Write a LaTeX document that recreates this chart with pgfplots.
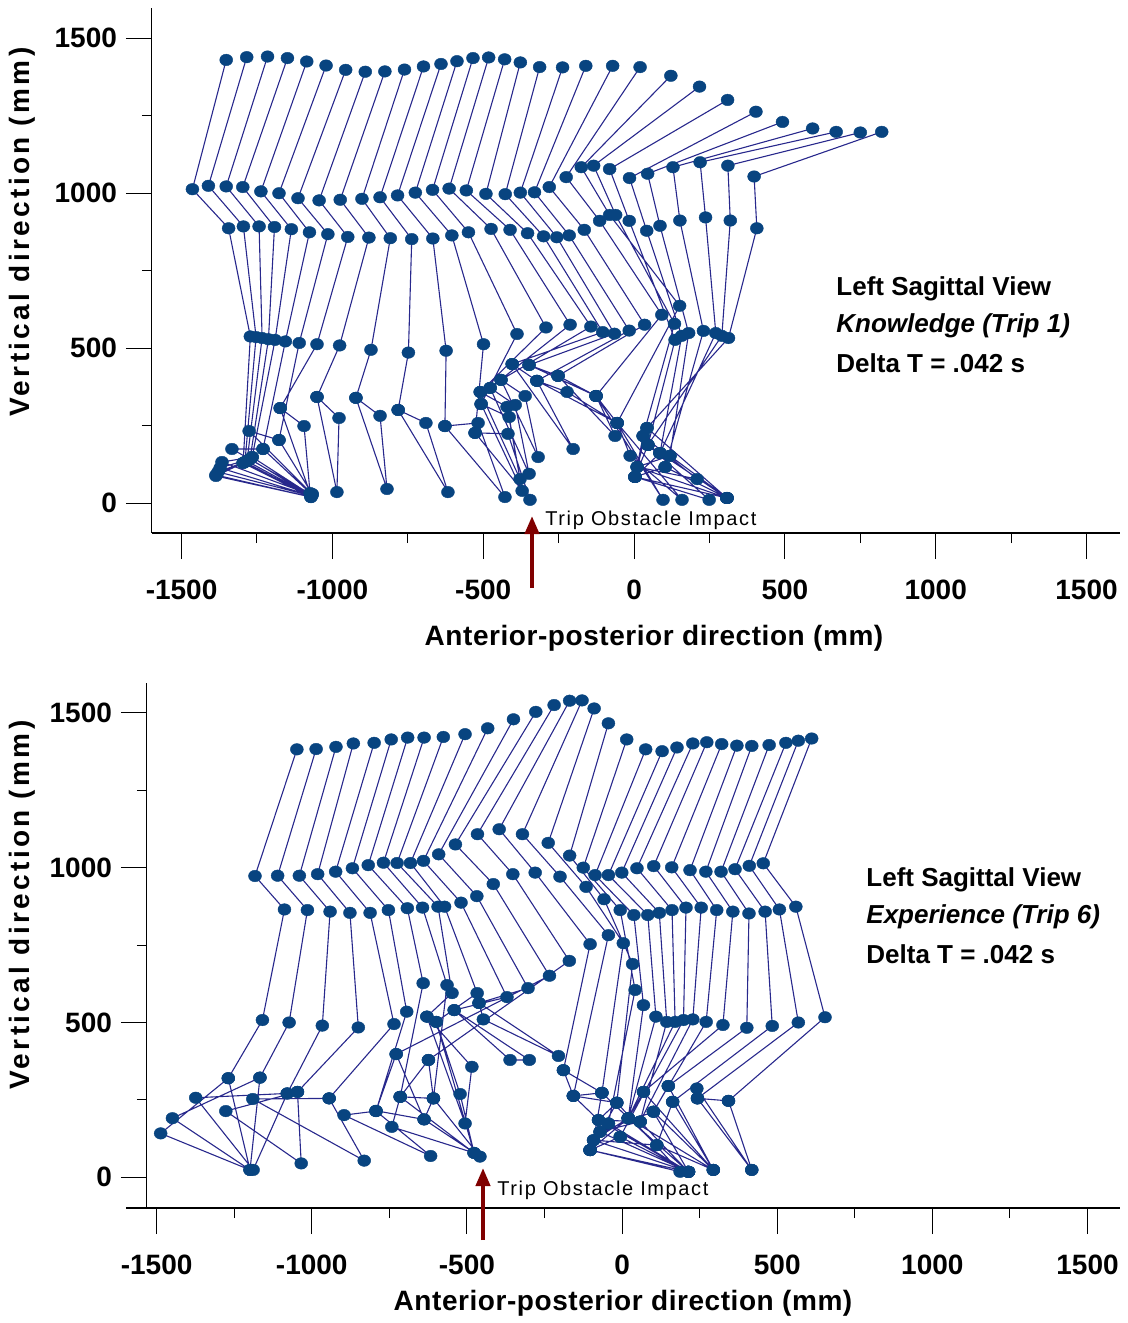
\documentclass[border=0pt]{standalone}
\usepackage{fontspec}
\setmainfont{Liberation Sans}
\newfontfamily\ylabfont[LetterSpace=12]{Liberation Sans}
\newfontfamily\xlabfont[LetterSpace=2]{Liberation Sans}
\newfontfamily\tripfont[LetterSpace=8]{Liberation Sans}
\usepackage{pgfplots}
\usepackage{pgfplotstable}
\pgfplotsset{compat=1.18}
\usetikzlibrary{arrows.meta}
\definecolor{lc}{RGB}{40,40,140}
\definecolor{mc}{RGB}{8,68,128}
\definecolor{arr}{RGB}{128,0,0}

\pgfplotstableread{
x y
-1352 1430
-1464 1013
-1344 887
-1272 538
-1296 130
-1386 88
-1071 20
-1296 130
nan nan
-1284 1439
-1411 1024
-1295 893
-1253 536
-1290 133
-1386 91
-1071 20
-1290 133
nan nan
-1215 1441
-1352 1022
-1243 893
-1233 533
-1283 136
-1379 101
-1071 24
-1283 136
nan nan
-1149 1436
-1297 1020
-1192 891
-1212 529
-1273 143
-1372 114
-1071 24
-1273 143
nan nan
-1085 1425
-1237 1006
-1136 884
-1190 527
-1266 149
-1366 133
-1071 27
-1266 149
nan nan
-1021 1412
-1177 1000
-1076 874
-1156 522
-1230 175
-1333 175
-1067 27
-1230 175
nan nan
-956 1398
-1114 984
-1015 868
-1110 517
-1177 204
-1276 233
-1067 30
-1177 204
nan nan
-891 1392
-1044 977
-949 859
-1051 513
-1173 307
-1094 249
-1074 33
-1173 307
nan nan
-826 1393
-974 979
-879 857
-976 509
-1051 343
-978 275
-985 36
-1051 343
nan nan
-761 1399
-902 982
-808 855
-872 495
-922 340
-842 282
-819 46
-922 340
nan nan
-698 1409
-842 987
-737 852
-748 486
-782 301
-690 259
-617 36
-782 301
nan nan
-640 1417
-784 993
-667 854
-623 492
-627 249
-517 259
-428 20
-627 249
nan nan
-587 1426
-725 1002
-604 864
-499 513
-527 227
-418 224
-345 11
-527 227
nan nan
-534 1436
-668 1011
-549 874
-388 546
-507 320
-414 278
-371 40
-507 320
nan nan
-482 1438
-613 1015
-474 885
-292 567
-510 359
-421 311
-378 78
-510 359
nan nan
-429 1432
-556 1009
-411 882
-212 576
-477 372
-394 317
-348 95
-477 372
nan nan
-377 1422
-491 998
-353 871
-143 570
-441 398
-361 346
-318 149
-441 398
nan nan
-313 1407
-427 997
-300 861
-104 552
-404 449
-322 395
-202 175
-404 449
nan nan
-237 1406
-377 1002
-256 858
-65 547
-348 446
-252 411
-126 346
-348 446
nan nan
-160 1411
-330 1003
-215 864
-16 557
-322 395
-222 359
-56 259
-322 395
nan nan
-71 1411
-281 1020
-165 882
35 576
-252 411
-126 346
-63 217
-252 411
nan nan
20 1407
-225 1052
-114 911
92 608
-126 346
-56 259
96 11
-126 346
nan nan
122 1379
-175 1084
-81 930
151 637
-56 259
-13 153
159 11
-56 259
nan nan
217 1344
-134 1089
-61 930
134 579
30 217
10 117
209 78
30 217
nan nan
310 1301
-81 1078
-16 911
136 527
46 188
3 85
249 11
46 188
nan nan
404 1263
-15 1049
42 879
158 540
86 162
3 85
308 17
86 162
nan nan
492 1230
45 1063
86 895
181 549
119 153
10 117
308 17
119 153
nan nan
592 1209
129 1084
152 912
230 556
103 117
3 85
308 17
103 117
nan nan
670 1198
219 1100
237 922
271 549
86 162
3 85
308 17
86 162
nan nan
750 1196
311 1089
319 912
291 540
46 188
3 85
308 17
46 188
nan nan
821 1198
398 1054
407 887
313 533
43 243
3 85
308 17
43 243
}\toptable

\pgfplotstableread{
x y
-1048 1382
-1183 973
-1088 865
-1159 508
-1269 320
-1487 142
-1199 24
-1269 320
nan nan
-986 1383
-1110 974
-1014 863
-1073 500
-1167 322
-1449 191
-1199 24
-1167 322
nan nan
-922 1390
-1040 974
-941 858
-966 490
-1079 271
-1374 257
-1189 24
-1079 271
nan nan
-866 1401
-981 979
-877 854
-850 484
-1046 276
-1277 214
-1034 45
-1046 276
nan nan
-799 1403
-923 987
-812 854
-735 495
-944 255
-1190 253
-831 54
-944 255
nan nan
-744 1414
-869 998
-753 863
-694 535
-793 214
-896 201
-617 69
-793 214
nan nan
-691 1420
-818 1008
-692 869
-641 627
-715 260
-742 163
-477 79
-715 260
nan nan
-638 1420
-769 1016
-643 871
-564 621
-608 255
-638 187
-458 67
-608 255
nan nan
-576 1422
-725 1015
-593 874
-548 595
-629 519
-484 357
-506 174
-629 519
nan nan
-506 1431
-682 1015
-572 874
-467 595
-599 502
-522 269
-477 79
-599 502
nan nan
-433 1450
-640 1022
-519 887
-371 582
-541 540
-361 379
-299 379
-541 540
nan nan
-350 1479
-591 1043
-468 908
-303 611
-461 563
-447 510
-205 392
-461 563
nan nan
-278 1503
-537 1075
-415 947
-234 651
-728 398
-793 215
-638 187
-728 398
nan nan
-219 1525
-466 1108
-352 979
-170 699
-624 379
-715 260
-608 255
-624 379
nan nan
-169 1539
-396 1124
-280 984
-103 753
-189 346
-157 263
-65 273
-189 346
nan nan
-129 1540
-321 1108
-200 971
-44 782
-157 263
-76 185
-17 241
-157 263
nan nan
-90 1514
-238 1080
-116 938
4 756
-65 273
-92 120
112 104
-65 273
nan nan
-44 1466
-169 1039
-58 898
34 689
-17 241
-103 88
187 18
-17 241
nan nan
15 1414
-125 1000
-6 863
42 605
-44 174
-103 88
214 18
-44 174
nan nan
76 1382
-87 976
38 847
69 556
20 191
-92 120
214 18
20 191
nan nan
129 1376
-44 976
83 847
109 519
20 191
-103 88
214 18
20 191
nan nan
177 1388
-1 984
120 854
144 502
58 180
-71 147
214 18
58 180
nan nan
228 1401
48 998
161 863
171 502
20 191
-103 88
214 18
20 191
nan nan
273 1405
102 1005
206 871
198 508
-6 131
-103 88
214 18
-6 131
nan nan
321 1399
160 1001
255 871
228 510
58 180
-76 185
214 18
58 180
nan nan
370 1394
219 992
305 863
271 502
101 212
-71 147
214 18
101 212
nan nan
418 1393
270 987
357 858
325 492
69 276
20 191
294 24
69 276
nan nan
474 1396
319 987
409 852
402 483
149 295
101 212
294 24
149 295
nan nan
528 1403
364 995
461 858
484 489
163 244
112 104
294 24
163 244
nan nan
568 1410
410 1006
507 865
568 500
243 255
241 287
418 24
243 255
nan nan
611 1417
455 1014
560 874
654 517
343 247
243 255
418 24
343 247
}\bottable

\pgfplotsset{
  panel/.style={
    axis x line*=bottom, axis y line*=left,
    clip=false,
    tick align=outside,
    major tick length=13pt, minor tick length=5pt,
    xtick={-1500,-1000,-500,0,500,1000,1500},
    xticklabels={-1500,-1000,-500,0,500,1000,1500},
    minor xtick={-1250,-750,-250,250,750,1250},
    ytick={0,500,1000,1500},
    yticklabels={0,500,1000,1500},
    minor ytick={250,750,1250},
    tick label style={font=\bfseries\fontsize{14pt}{16pt}\selectfont, text=black},
    xticklabel style={yshift=-7pt},
    yticklabel style={xshift=-1pt},
    tick style={black, line width=0.5pt},
    x axis line style={line width=1pt},
    y axis line style={line width=0.5pt},
    unbounded coords=jump,
  },
  stick/.style={
    color=lc, line width=0.55pt,
    mark=*, mark size=2.9pt,
    mark options={fill=mc, draw=mc, xscale=1.12, line width=0.2pt},
  },
}

\begin{document}
\begin{tikzpicture}
\useasboundingbox (0pt,0pt) rectangle (564pt,-661.5pt);

% top panel
\begin{axis}[panel,
  anchor=south west, at={(76pt,-266.5pt)},
  x=0.150835pt, y=0.155pt,
  xmin=-1598, xmax=1611, ymin=-96, ymax=1598]
\addplot[stick] table[x=x,y=y] {\toptable};
\end{axis}

% bottom panel
\begin{axis}[panel,
  anchor=south west, at={(73.5pt,-604pt)},
  x=0.15515pt, y=0.15485pt,
  xmin=-1531, xmax=1605, ymin=-99, ymax=1596]
\addplot[stick] table[x=x,y=y] {\bottable};
\end{axis}

\draw[line width=1pt] (63pt,-604pt) -- (74pt,-604pt);

% axis titles
\node[rotate=90, font=\ylabfont\bfseries\fontsize{14pt}{16pt}\selectfont] at (11pt,-116pt) {Vertical direction (mm)};
\node[rotate=90, font=\ylabfont\bfseries\fontsize{14pt}{16pt}\selectfont] at (11pt,-452.5pt) {Vertical direction (mm)};
\node[font=\xlabfont\bfseries\fontsize{14pt}{16pt}\selectfont] at (327pt,-319pt) {Anterior-posterior direction (mm)};
\node[font=\xlabfont\bfseries\fontsize{14pt}{16pt}\selectfont] at (311.5pt,-651.5pt) {Anterior-posterior direction (mm)};

% text blocks
\begin{scope}[every node/.style={anchor=west, inner sep=0pt, font=\bfseries\fontsize{13pt}{15pt}\selectfont}]
\node at (418pt,-144.5pt) {Left Sagittal View};
\node at (418pt,-163pt) {\itshape Knowledge (Trip 1)};
\node at (418pt,-181.5pt) {Delta T = .042 s};
\node at (433pt,-440pt) {Left Sagittal View};
\node at (433pt,-458.5pt) {\itshape Experience (Trip 6)};
\node at (433pt,-477pt) {Delta T = .042 s};
\end{scope}

% trip annotations
\node[anchor=west, inner sep=0pt, font=\tripfont\fontsize{10pt}{12pt}\selectfont] at (272.5pt,-260pt) {Trip Obstacle Impact};
\node[anchor=west, inner sep=0pt, font=\tripfont\fontsize{10pt}{12pt}\selectfont] at (248.5pt,-595pt) {Trip Obstacle Impact};
\draw[arr, line width=2pt, -{Triangle[width=7pt,length=9pt]}] (266pt,-294pt) -- (266pt,-258pt);
\draw[arr, line width=2pt, -{Triangle[width=7pt,length=9pt]}] (241.5pt,-620pt) -- (241.5pt,-584pt);
\end{tikzpicture}
\end{document}
